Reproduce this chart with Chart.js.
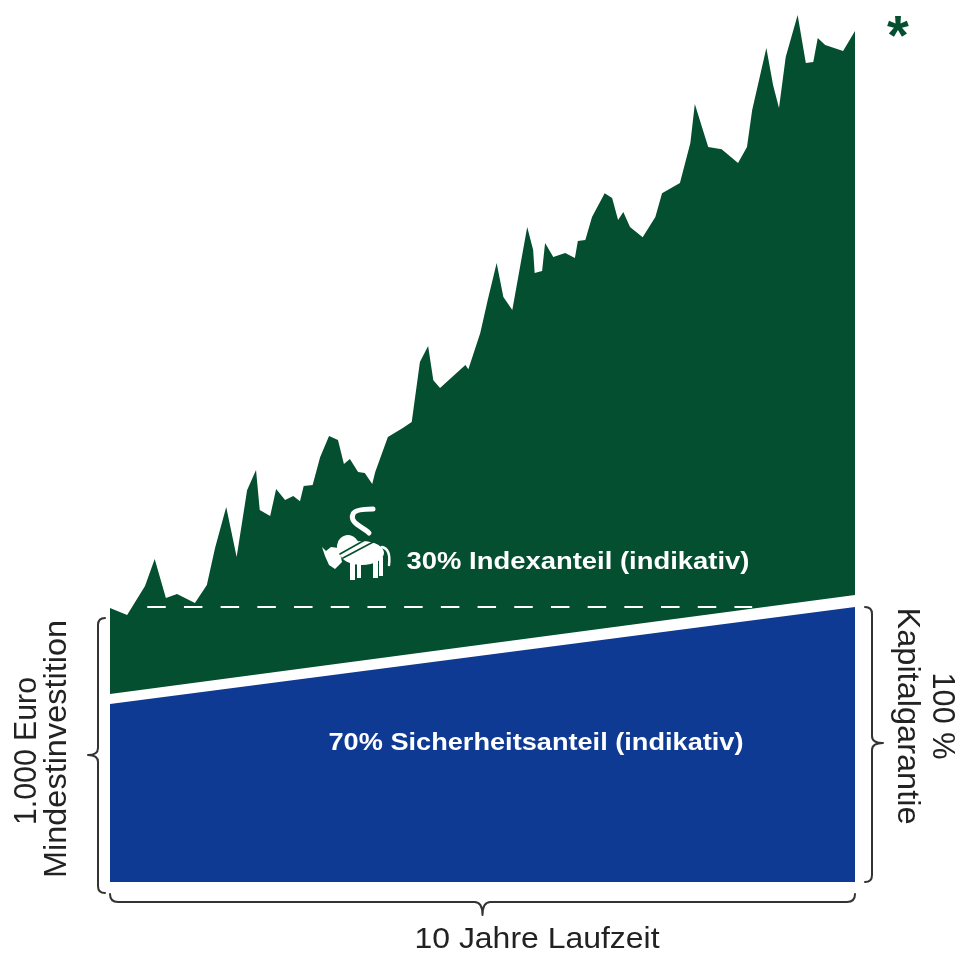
<!DOCTYPE html>
<html>
<head>
<meta charset="utf-8">
<script src="https://cdn.jsdelivr.net/npm/chart.js@4/dist/chart.umd.min.js"></script>
<style>
html,body{margin:0;padding:0;background:#ffffff;}
#wrap{width:955px;height:954px;position:relative;}
</style>
</head>
<body>
<div id="wrap"><canvas id="c" width="955" height="954"></canvas></div>
<script>
// Years of the 10-year term (x axis)
const indexYears = [0.00,0.23,0.47,0.60,0.75,0.90,1.14,1.30,1.41,1.56,1.70,1.84,1.96,2.01,2.15,2.23,2.35,2.46,2.55,2.60,2.72,2.82,2.94,3.06,3.14,3.22,3.33,3.42,3.52,3.56,3.73,3.93,4.05,4.16,4.27,4.34,4.43,4.77,4.81,4.97,5.07,5.19,5.28,5.40,5.60,5.68,5.70,5.80,5.84,5.95,6.11,6.24,6.28,6.38,6.47,6.64,6.74,6.82,6.89,6.98,7.15,7.32,7.41,7.65,7.79,7.85,7.95,8.03,8.21,8.43,8.55,8.62,8.81,8.90,8.98,9.07,9.23,9.34,9.44,9.50,9.60,9.84,10.00];
// Indicative portfolio value (Euro) - index part top edge
const indexValues = [996,971,1076,1175,1033,1047,1015,1080,1215,1364,1182,1425,1498,1353,1331,1429,1389,1404,1385,1440,1444,1545,1622,1607,1520,1538,1491,1487,1447,1491,1618,1651,1673,1891,1949,1825,1796,1880,1865,1996,2116,2251,2127,2080,2382,2298,2215,2222,2324,2273,2287,2269,2331,2335,2418,2505,2487,2407,2436,2382,2345,2418,2505,2542,2687,2829,2742,2673,2665,2615,2673,2807,3033,2898,2815,3000,3153,2978,2982,3069,3044,3022,3095];
// Lower edge of the index part
const baseYears = [0, 10];
const indexBase = [684, 1044];
// Safety part (zero bond) growing to 100 % guarantee
const safetyYears = [0, 10];
const safetyValues = [647, 1000];
// 100 % capital guarantee level (dashed)
const guaranteeYears = [0.5, 8.62];
const guaranteeValues = [1000, 1000];

const textIndex = '30% Indexanteil (indikativ)';
const textSafety = '70% Sicherheitsanteil (indikativ)';
const textLeft = ['1.000 Euro', 'Mindestinvestition'];
const textRight = ['100 %', 'Kapitalgarantie'];
const textBottom = '10 Jahre Laufzeit';

const GREEN = '#034f2f';
const BLUE = '#0e3a93';
const FONT = '"Liberation Sans", Arial, Helvetica, sans-serif';

const pts = (xs, ys) => xs.map((x, i) => ({x: x, y: ys[i]}));

function fitText(ctx, text, x, y, size, weight, width, color, rot) {
  ctx.save();
  ctx.translate(x, y);
  ctx.rotate(rot || 0);
  ctx.font = weight + ' ' + size + 'px ' + FONT;
  const w = ctx.measureText(text).width;
  ctx.scale(width / w, 1);
  ctx.textAlign = 'center';
  ctx.textBaseline = 'middle';
  ctx.fillStyle = color;
  ctx.fillText(text, 0, 0);
  ctx.restore();
}

// curly brace along direction (ux,uy) of length L, tip pointing along (nx,ny)
function brace(ctx, ox, oy, ux, uy, nx, ny, L, tipT, depth, r) {
  const P = (t, n) => [ox + ux * t + nx * n, oy + uy * t + ny * n];
  ctx.beginPath();
  let p = P(0, -r); ctx.moveTo(p[0], p[1]);
  let c = P(0, 0), e = P(r, 0);
  ctx.quadraticCurveTo(c[0], c[1], e[0], e[1]);
  p = P(tipT - r, 0); ctx.lineTo(p[0], p[1]);
  c = P(tipT, 0); e = P(tipT, depth);
  ctx.quadraticCurveTo(c[0], c[1], e[0], e[1]);
  c = P(tipT, 0); e = P(tipT + r, 0);
  ctx.quadraticCurveTo(c[0], c[1], e[0], e[1]);
  p = P(L - r, 0); ctx.lineTo(p[0], p[1]);
  c = P(L, 0); e = P(L, -r);
  ctx.quadraticCurveTo(c[0], c[1], e[0], e[1]);
  ctx.stroke();
}

function drawBison(ctx, ox, oy) {
  ctx.save();
  ctx.translate(ox, oy);
  ctx.fillStyle = '#ffffff';
  ctx.strokeStyle = '#ffffff';
  ctx.lineCap = 'round';
  // body
  ctx.beginPath(); ctx.ellipse(17, 8, 22, 12, 0, 0, Math.PI * 2); ctx.fill();
  // hump
  ctx.beginPath(); ctx.ellipse(3, 2, 11, 12, 0, 0, Math.PI * 2); ctx.fill();
  // head
  ctx.beginPath();
  ctx.moveTo(-23, 2); ctx.lineTo(-19, 6); ctx.lineTo(-14, 2); ctx.lineTo(-6, 3);
  ctx.lineTo(-3, 17); ctx.lineTo(-10, 24); ctx.lineTo(-16, 20); ctx.lineTo(-20, 11);
  ctx.closePath(); ctx.fill();
  // legs
  ctx.fillRect(5, 14, 5, 21);
  ctx.fillRect(12, 14, 4, 19);
  ctx.fillRect(28, 12, 5, 21);
  ctx.fillRect(34, 12, 4, 19);
  // tail
  ctx.lineWidth = 2.5;
  ctx.beginPath(); ctx.moveTo(37, 2); ctx.quadraticCurveTo(46, 4, 44, 20); ctx.stroke();
  // scarf ribbon (S shape)
  ctx.lineWidth = 5;
  ctx.beginPath();
  ctx.moveTo(28, -36);
  ctx.quadraticCurveTo(10, -36, 8, -31);
  ctx.bezierCurveTo(4, -22, 18, -18, 24, -12);
  ctx.stroke();
  // scarf band across the body
  ctx.strokeStyle = GREEN;
  ctx.lineWidth = 1.6;
  ctx.beginPath(); ctx.moveTo(27, -9); ctx.lineTo(-5, 9); ctx.stroke();
  ctx.beginPath(); ctx.moveTo(30, -4); ctx.lineTo(-2, 13); ctx.stroke();
  ctx.restore();
}

const decor = {
  id: 'decor',
  afterDatasetsDraw(chart) {
    const ctx = chart.ctx;
    const a = chart.chartArea;
    ctx.save();
    // inner labels
    fitText(ctx, textIndex, 578, 562, 24, 'bold', 343, '#ffffff', 0);
    fitText(ctx, textSafety, 536, 743, 24, 'bold', 415, '#ffffff', 0);
    drawBison(ctx, 345, 545);
    // asterisk
    ctx.fillStyle = GREEN;
    ctx.font = 'bold 56px ' + FONT;
    ctx.textAlign = 'center';
    ctx.textBaseline = 'alphabetic';
    ctx.fillText('*', 898, 54);
    // side texts
    fitText(ctx, textLeft[0], 27, 751, 31, 'normal', 148, '#222222', -Math.PI / 2);
    fitText(ctx, textLeft[1], 57, 749, 31, 'normal', 258, '#222222', -Math.PI / 2);
    fitText(ctx, textRight[0], 942, 716, 31, 'normal', 87, '#222222', Math.PI / 2);
    fitText(ctx, textRight[1], 907, 716, 31, 'normal', 217, '#222222', Math.PI / 2);
    fitText(ctx, textBottom, 537, 940, 30, 'normal', 245, '#222222', 0);
    // braces
    ctx.strokeStyle = '#333333';
    ctx.lineWidth = 2;
    ctx.lineJoin = 'round';
    ctx.lineCap = 'round';
    brace(ctx, 98, 618, 0, 1, -1, 0, 275, 137, 10, 7);
    brace(ctx, 872, 607, 0, 1, 1, 0, 275, 136, 11, 7);
    brace(ctx, a.left, 902, 1, 0, 0, 1, a.right - a.left, (a.right - a.left) / 2, 13, 8);
    ctx.restore();
  }
};

new Chart(document.getElementById('c'), {
  type: 'line',
  data: {
    datasets: [
      {
        label: 'Garantie',
        data: pts(guaranteeYears, guaranteeValues),
        borderColor: '#ffffff',
        borderWidth: 2,
        borderDash: [18.5, 18.2],
        fill: false,
        pointRadius: 0,
        order: 0
      },
      {
        label: 'Indexanteil',
        data: pts(indexYears, indexValues),
        borderWidth: 0,
        borderColor: GREEN,
        backgroundColor: GREEN,
        fill: '+1',
        pointRadius: 0,
        tension: 0,
        order: 1
      },
      {
        label: 'Basis',
        data: pts(baseYears, indexBase),
        borderWidth: 0,
        borderColor: 'rgba(0,0,0,0)',
        fill: false,
        pointRadius: 0,
        order: 2
      },
      {
        label: 'Sicherheitsanteil',
        data: pts(safetyYears, safetyValues),
        borderWidth: 0,
        borderColor: BLUE,
        backgroundColor: BLUE,
        fill: 'origin',
        pointRadius: 0,
        order: 3
      }
    ]
  },
  options: {
    responsive: false,
    animation: false,
    layout: { padding: { left: 110, right: 100, top: 2, bottom: 72 } },
    scales: {
      x: { type: 'linear', min: 0, max: 10, display: false },
      y: { type: 'linear', min: 0, max: 3200, display: false }
    },
    plugins: { legend: { display: false }, tooltip: { enabled: false } },
    elements: { point: { radius: 0 }, line: { tension: 0 } }
  },
  plugins: [decor]
});
</script>
</body>
</html>
